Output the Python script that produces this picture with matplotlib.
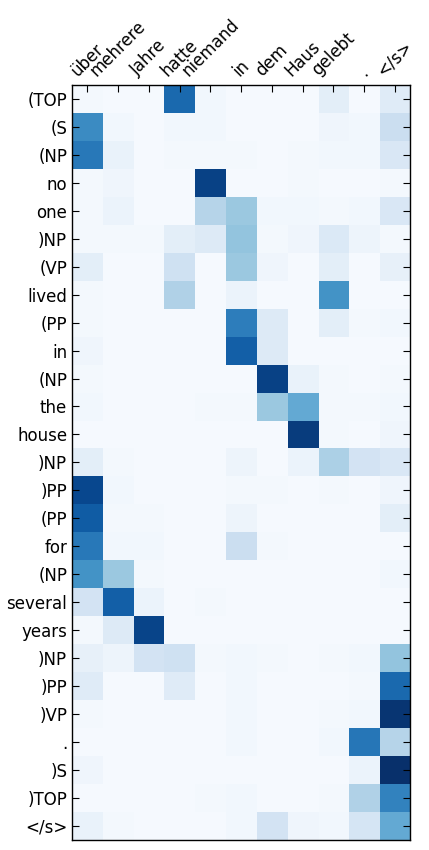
import numpy as np
import matplotlib
matplotlib.use('Agg')
import matplotlib.pyplot as plt

src = ['über', 'mehrere', 'Jahre', 'hatte', 'niemand', 'in', 'dem', 'Haus', 'gelebt', '.', '</s>']
tgt = ['(TOP', '(S', '(NP', 'no', 'one', ')NP', '(VP', 'lived', '(PP', 'in', '(NP', 'the',
       'house', ')NP', ')PP', '(PP', 'for', '(NP', 'several', 'years', ')NP', ')PP', ')VP',
       '.', ')S', ')TOP', '</s>']

# attention weights, one row per target token
att = [
    [0.02, 0.01, 0.01, 0.78, 0.03, 0.01, 0.01, 0.01, 0.10, 0.01, 0.12],
    [0.65, 0.03, 0.01, 0.03, 0.03, 0.01, 0.01, 0.01, 0.04, 0.03, 0.22],
    [0.72, 0.07, 0.01, 0.02, 0.02, 0.02, 0.01, 0.02, 0.03, 0.03, 0.15],
    [0.02, 0.04, 0.01, 0.01, 0.93, 0.01, 0.01, 0.02, 0.01, 0.01, 0.02],
    [0.02, 0.06, 0.01, 0.01, 0.30, 0.38, 0.03, 0.03, 0.02, 0.03, 0.15],
    [0.02, 0.02, 0.02, 0.10, 0.13, 0.40, 0.02, 0.04, 0.14, 0.05, 0.02],
    [0.10, 0.01, 0.01, 0.20, 0.01, 0.38, 0.04, 0.01, 0.10, 0.01, 0.08],
    [0.02, 0.01, 0.01, 0.32, 0.01, 0.06, 0.01, 0.01, 0.62, 0.01, 0.01],
    [0.02, 0.01, 0.01, 0.01, 0.01, 0.70, 0.13, 0.01, 0.10, 0.02, 0.03],
    [0.04, 0.01, 0.01, 0.01, 0.01, 0.82, 0.13, 0.01, 0.01, 0.01, 0.01],
    [0.02, 0.01, 0.01, 0.01, 0.01, 0.01, 0.93, 0.07, 0.02, 0.01, 0.02],
    [0.03, 0.01, 0.01, 0.01, 0.02, 0.02, 0.38, 0.52, 0.02, 0.02, 0.03],
    [0.01, 0.01, 0.01, 0.01, 0.01, 0.01, 0.01, 0.95, 0.02, 0.01, 0.04],
    [0.10, 0.02, 0.01, 0.01, 0.01, 0.05, 0.01, 0.06, 0.33, 0.18, 0.15],
    [0.91, 0.03, 0.01, 0.01, 0.01, 0.02, 0.02, 0.01, 0.02, 0.01, 0.04],
    [0.83, 0.02, 0.02, 0.01, 0.01, 0.05, 0.01, 0.01, 0.01, 0.01, 0.10],
    [0.72, 0.03, 0.03, 0.01, 0.01, 0.22, 0.02, 0.01, 0.01, 0.01, 0.01],
    [0.62, 0.38, 0.02, 0.01, 0.01, 0.01, 0.01, 0.01, 0.01, 0.01, 0.03],
    [0.18, 0.82, 0.06, 0.01, 0.02, 0.01, 0.01, 0.01, 0.01, 0.01, 0.01],
    [0.02, 0.13, 0.92, 0.01, 0.01, 0.01, 0.01, 0.01, 0.01, 0.01, 0.01],
    [0.08, 0.05, 0.18, 0.20, 0.02, 0.03, 0.02, 0.01, 0.02, 0.03, 0.40],
    [0.12, 0.01, 0.01, 0.12, 0.01, 0.03, 0.01, 0.01, 0.01, 0.02, 0.78],
    [0.02, 0.01, 0.01, 0.01, 0.01, 0.03, 0.01, 0.01, 0.02, 0.03, 0.98],
    [0.01, 0.01, 0.01, 0.01, 0.01, 0.03, 0.01, 0.01, 0.03, 0.73, 0.30],
    [0.04, 0.01, 0.01, 0.01, 0.01, 0.01, 0.01, 0.01, 0.01, 0.06, 1.00],
    [0.01, 0.01, 0.01, 0.01, 0.02, 0.03, 0.01, 0.01, 0.02, 0.32, 0.68],
    [0.07, 0.02, 0.01, 0.01, 0.01, 0.03, 0.18, 0.04, 0.03, 0.17, 0.52],
]

fig = plt.figure(figsize=(4.29, 8.5), dpi=100)
ax = fig.add_axes([0.168, 0.012, 0.788, 0.888])
ax.imshow(np.array(att), cmap='Blues', vmin=0, vmax=1, aspect='auto',
          interpolation='nearest')

ax.set_xticks(np.arange(len(src)))
ax.set_yticks(np.arange(len(tgt)))
ax.xaxis.tick_top()
ax.set_xticklabels(src, rotation=45, ha='center', fontsize=12)
ax.set_yticklabels(tgt, fontsize=12)
ax.tick_params(direction='in', top=True, bottom=False, left=True, right=True, length=5)
ax.tick_params(axis='x', pad=4)
for s in ax.spines.values():
    s.set_linewidth(1.0)

plt.savefig('out.png', dpi=100)
